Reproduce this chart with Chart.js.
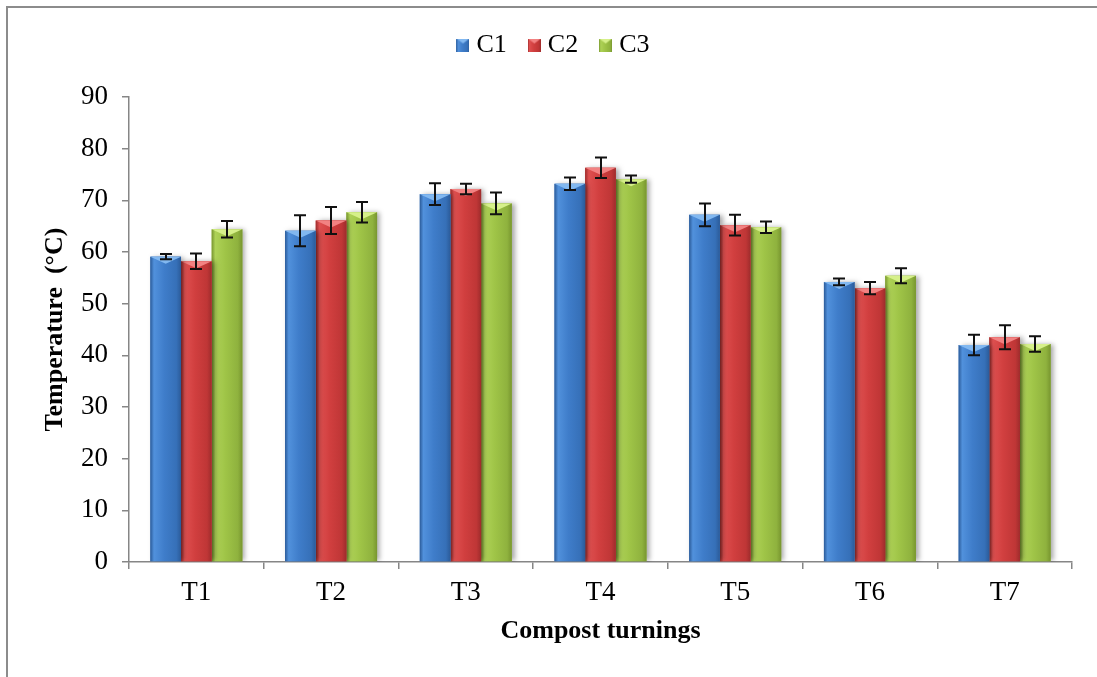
<!DOCTYPE html>
<html>
<head>
<meta charset="utf-8">
<script src="https://cdn.jsdelivr.net/npm/chart.js@4.4.1/dist/chart.umd.min.js"></script>
<style>
  html, body { margin: 0; padding: 0; background: #fff; overflow: hidden; }
  #frame {
    position: absolute; left: 6px; top: 6px; width: 1100px; height: 700px;
    border: 2px solid #8c8c8c; box-sizing: border-box;
  }
  #chart { position: absolute; left: 0; top: 0; }
</style>
</head>
<body>
<div id="frame"></div>
<canvas id="chart" width="1097" height="677"></canvas>
<script>
// compost temperature per turning, three compost treatments
const turnings = ["T1", "T2", "T3", "T4", "T5", "T6", "T7"];
const seriesNames = ["C1", "C2", "C3"];
const c1Temp = [59.1, 64.1, 71.2, 73.2, 67.2, 54.2, 42.0];
const c2Temp = [58.2, 66.1, 72.2, 76.3, 65.2, 53.0, 43.5];
const c3Temp = [64.4, 67.7, 69.4, 74.1, 64.8, 55.4, 42.2];
// standard deviation (+/-)
const c1Err = [0.5, 3.0, 2.1, 1.2, 2.2, 0.65, 2.0];
const c2Err = [1.5, 2.6, 1.0, 2.0, 2.0, 1.2, 2.3];
const c3Err = [1.6, 2.0, 2.1, 0.7, 1.1, 1.45, 1.5];
const yTicks = [0, 10, 20, 30, 40, 50, 60, 70, 80, 90];

const serif = "'Liberation Serif', 'Times New Roman', serif";

// shaded bar look: dark edges, light left strip, pale bevel on top
const palettes = [
  { dark: "#2b5b99", light: "#5191dc", mid: "#3f7dca", mid2: "#3670b8", top: "#82b8f0" },
  { dark: "#9e2c2c", light: "#df5050", mid: "#d13f3f", mid2: "#bf3636", top: "#f28282" },
  { dark: "#78962f", light: "#aed257", mid: "#9fc447", mid2: "#8fb23e", top: "#d6f08a" },
];

function paintBar(c, pal, left, top, width, height, bevel) {
  const g = c.createLinearGradient(left, 0, left + width, 0);
  g.addColorStop(0, pal.dark);
  g.addColorStop(0.12, pal.light);
  g.addColorStop(0.45, pal.mid);
  g.addColorStop(0.85, pal.mid2);
  g.addColorStop(1, pal.dark);
  c.fillStyle = g;
  c.fillRect(left, top, width, height);
  const d = Math.min(bevel, height);
  c.beginPath();
  c.moveTo(left, top);
  c.lineTo(left + width, top);
  c.lineTo(left + width / 2, top + d);
  c.closePath();
  c.fillStyle = pal.top;
  c.fill();
}

function legendIcon(pal) {
  const cv = document.createElement("canvas");
  cv.width = 13;
  cv.height = 13;
  paintBar(cv.getContext("2d"), pal, 0, 0, 13, 13, 5);
  return cv;
}
const legendIcons = palettes.map(legendIcon);

const barLook = {
  id: "barLook",
  beforeDatasetDraw(chart) {
    const c = chart.ctx;
    c.save();
    c.shadowColor = "rgba(0,0,0,0.35)";
    c.shadowBlur = 5;
    c.shadowOffsetX = 3;
  },
  afterDatasetDraw(chart, args) {
    const c = chart.ctx;
    c.restore();
    const pal = palettes[args.index];
    args.meta.data.forEach((bar) => {
      const { x, y, base, width } = bar.getProps(["x", "y", "base", "width"], true);
      paintBar(c, pal, x - width / 2, y, width, base - y, 7);
    });
  },
};

const errorBars = {
  id: "errorBars",
  afterDatasetsDraw(chart) {
    const c = chart.ctx;
    const yScale = chart.scales.y;
    c.save();
    c.strokeStyle = "#111";
    c.lineWidth = 2;
    chart.data.datasets.forEach((ds, i) => {
      chart.getDatasetMeta(i).data.forEach((bar, j) => {
        const v = ds.data[j];
        const e = ds.errors[j];
        const hi = yScale.getPixelForValue(v + e);
        const lo = yScale.getPixelForValue(v - e);
        const x = Math.round(bar.x);
        c.beginPath();
        c.moveTo(x, hi);
        c.lineTo(x, lo);
        c.moveTo(x - 6, hi);
        c.lineTo(x + 6, hi);
        c.moveTo(x - 6, lo);
        c.lineTo(x + 6, lo);
        c.stroke();
      });
    });
    c.restore();
  },
};

// fixed legend band height so the plot starts at the same place every time
const legendSpace = {
  id: "legendSpace",
  beforeLayout(chart) {
    const lg = chart.legend;
    if (lg && !lg._fixedFit) {
      const fit = lg.fit;
      lg.fit = function () {
        fit.call(this);
        this.height = 92;
      };
      lg._fixedFit = true;
    }
  },
};

new Chart(document.getElementById("chart"), {
  type: "bar",
  data: {
    labels: turnings,
    datasets: [
      { label: seriesNames[0], data: c1Temp, errors: c1Err, backgroundColor: palettes[0].mid },
      { label: seriesNames[1], data: c2Temp, errors: c2Err, backgroundColor: palettes[1].mid },
      { label: seriesNames[2], data: c3Temp, errors: c3Err, backgroundColor: palettes[2].mid },
    ],
  },
  options: {
    responsive: false,
    animation: false,
    devicePixelRatio: 1,
    categoryPercentage: 0.683,
    barPercentage: 1.0,
    layout: { padding: { left: 40, right: 25, top: 5, bottom: 0 } },
    plugins: {
      legend: {
        position: "top",
        labels: {
          usePointStyle: true,
          boxWidth: 1,
          padding: 27,
          color: "#000",
          font: { family: serif, size: 26 },
          generateLabels: (chart) =>
            chart.data.datasets.map((ds, i) => ({
              text: ds.label,
              pointStyle: legendIcons[i],
              datasetIndex: i,
              hidden: false,
              fillStyle: palettes[i].mid,
              strokeStyle: "transparent",
              lineWidth: 0,
            })),
        },
      },
      tooltip: { enabled: false },
    },
    scales: {
      x: {
        afterFit: (scale) => { scale.height = 115; },
        grid: {
          offset: true,
          drawOnChartArea: false,
          tickLength: 7,
          color: "#868686",
          lineWidth: 1.5,
        },
        border: { color: "#868686", width: 1.5 },
        ticks: { color: "#000", padding: 8, font: { family: serif, size: 27 } },
        title: {
          display: true,
          text: "Compost turnings",
          color: "#000",
          font: { family: serif, size: 26, weight: "bold" },
          padding: { top: 0, bottom: 30 },
        },
      },
      y: {
        min: 0,
        max: 90,
        afterFit: (scale) => { scale.width = 89; },
        afterBuildTicks: (scale) => { scale.ticks = yTicks.map((v) => ({ value: v })); },
        grid: {
          drawOnChartArea: false,
          tickLength: 7,
          color: "#868686",
          lineWidth: 1.5,
        },
        border: { color: "#868686", width: 1.5 },
        ticks: { color: "#000", padding: 14, font: { family: serif, size: 27 } },
        title: {
          display: true,
          text: "Temperature  (°C)",
          color: "#000",
          font: { family: serif, size: 26, weight: "bold" },
          padding: { top: 0, bottom: 0 },
        },
      },
    },
  },
  plugins: [legendSpace, barLook, errorBars],
});
</script>
</body>
</html>
